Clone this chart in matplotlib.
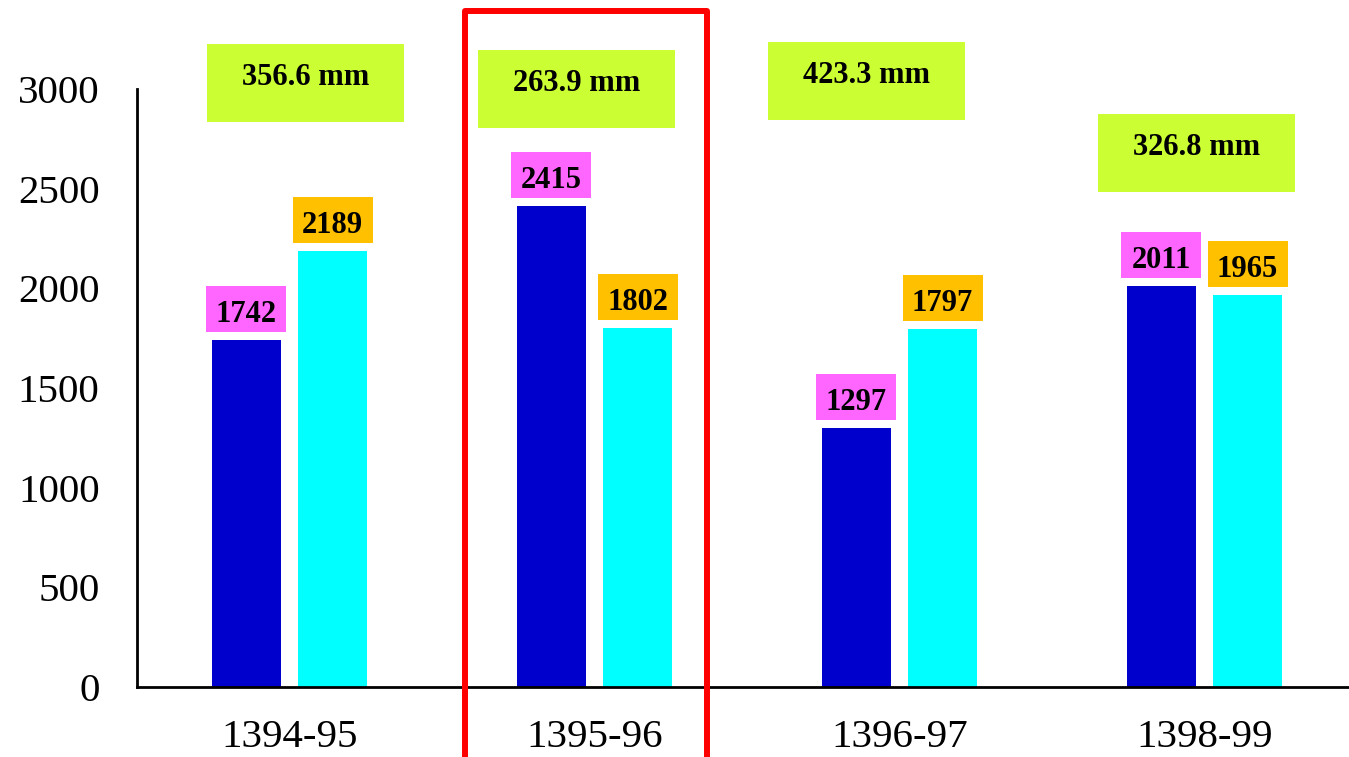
import numpy as np
import matplotlib.pyplot as plt
from matplotlib.patches import Rectangle

# Datos: dos series por temporada y la lluvia total de cada temporada
temporadas = ['1394-95', '1395-96', '1396-97', '1398-99']
serie_a = [1742, 2415, 1297, 2011]
serie_b = [2189, 1802, 1797, 1965]
lluvia = [356.6, 263.9, 423.3, 326.8]

W, H = 1349, 757
fig = plt.figure(figsize=(W / 100, H / 100), dpi=100)
plt.rcParams['font.family'] = ['Liberation Serif', 'DejaVu Serif']

# ejes en pixeles: eje y en x=137, cero en y=687, 3000 en y=89
ax_l, ax_b = 137 / W, (H - 687) / H
ax_h = (687 - 89) / H
ax_w = 1220 / W
ax = fig.add_axes([ax_l, ax_b, ax_w, ax_h])

x = np.arange(len(temporadas))
ancho = 0.223
desp = 0.141
ax.bar(x - desp, serie_a, ancho, color='#0000CC', zorder=2)
ax.bar(x + desp, serie_b, ancho, color='#00FFFF', zorder=2)

ax.set_xlim(-0.5, 3.5)
ax.set_ylim(0, 3000)
ax.set_yticks(np.arange(0, 3001, 500))
ax.set_xticks(x)
ax.set_xticklabels(temporadas)
ax.tick_params(axis='y', length=0, pad=27, labelsize=29.5)
ax.tick_params(axis='x', length=0, pad=23, labelsize=29.5)
for s in ['top', 'right']:
    ax.spines[s].set_visible(False)
for s in ['left', 'bottom']:
    ax.spines[s].set_linewidth(2)
    ax.spines[s].set_zorder(3)

# conversion de pixeles a unidades de datos
py = 3000 / (687 - 89)   # unidades de y por pixel
px = 4 / 1220            # unidades de x por pixel

def etiqueta(xc, val, color):
    caja_w, caja_h, gap = 80 * px, 46 * py, 8 * py
    ax.add_patch(Rectangle((xc - caja_w / 2, val + gap), caja_w, caja_h,
                           facecolor=color, edgecolor='none', zorder=4, clip_on=False))
    ax.text(xc, val + gap + 10 * py, str(val), ha='center', va='baseline',
            fontsize=22, fontweight='bold', zorder=5)

for i in range(len(temporadas)):
    etiqueta(x[i] - desp, serie_a[i], '#FF66FF')
    etiqueta(x[i] + desp, serie_b[i], '#FFC000')

# cajas verdes con la lluvia total (pixeles: izquierda, arriba)
cajas = [(207, 44), (478, 50), (768, 42), (1098, 114)]
for (cx, cy), mm in zip(cajas, lluvia):
    bw, bh = 197, 78
    fig.patches.append(Rectangle((cx / W, 1 - (cy + bh) / H), bw / W, bh / H,
                                 transform=fig.transFigure, facecolor='#CCFF33',
                                 edgecolor='none', zorder=5))
    fig.text((cx + bw / 2) / W, 1 - (cy + 41) / H, '%.1f mm' % mm,
             ha='center', va='baseline', fontsize=22, fontweight='bold', zorder=6)

# marco rojo sobre la temporada 1395-96
fig.patches.append(Rectangle((465 / W, -20 / H), 242 / W, (H - 11 + 20) / H,
                             transform=fig.transFigure, facecolor='none',
                             edgecolor='#FF0000', linewidth=4.3, zorder=7,
                             joinstyle='round'))

fig.savefig('out.png', dpi=100)
